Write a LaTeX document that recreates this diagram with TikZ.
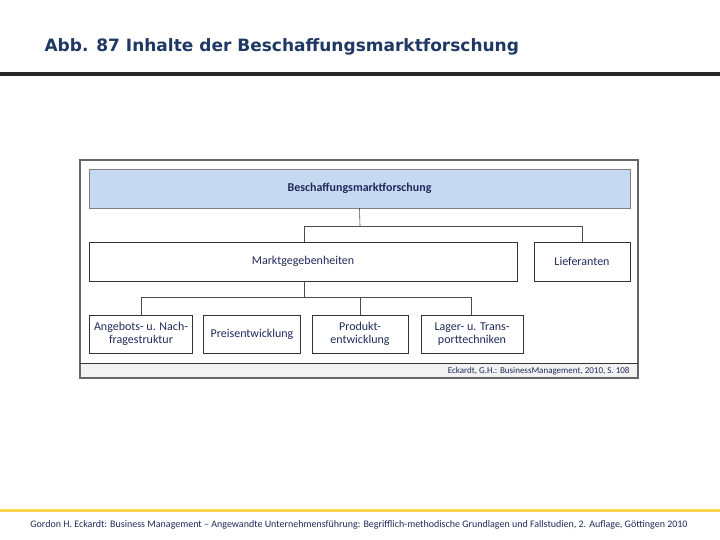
\documentclass[tikz,border=0pt]{standalone}
\usepackage{fontspec}
\setmainfont{DejaVu Sans}
\newfontfamily\carl{Carlito}
\begin{document}
\begin{tikzpicture}[x=1pt,y=-1pt,
  bx/.style={draw=black!80,line width=0.6pt},
  lbl/.style={font=\carl\fontsize{12}{13}\selectfont,text=navy,align=center},
  ln/.style={draw=black!70,line width=0.6pt}]
\definecolor{navy}{HTML}{1F2A5A}
\definecolor{ttl}{HTML}{1F3864}
\definecolor{topfill}{HTML}{C6D9F1}
\useasboundingbox (0,0) rectangle (720,540);
\node[anchor=west,font=\bfseries\fontsize{17}{19}\selectfont,text=ttl] (title) at (41,47) {Abb. 87 Inhalte der Beschaffungsmarktforschung};
\fill[black!85] (0,72.5) rectangle (720,76);
\fill[yellow!60!orange!70] (0,509) rectangle (720,512);
\node[font=\carl\fontsize{10}{12}\selectfont,text=navy] (foot) at (359,525) {Gordon H. Eckardt: Business Management – Angewandte Unternehmensführung: Begrifflich-methodische Grundlagen und Fallstudien, 2. Auflage, Göttingen 2010};
% frame
\draw[bx,line width=1.2pt,draw=black!60] (80,160) rectangle (638,378);
\fill[black!5] (81,363) rectangle (637,377);
\draw[black!80,line width=0.8pt] (80,363) -- (638,363);
\node[anchor=east,font=\carl\fontsize{9}{10}\selectfont,text=navy] (src) at (633,371) {Eckardt, G.H.: BusinessManagement, 2010, S. 108};
% boxes
\node[bx,fill=topfill,draw=black!50,minimum width=541,minimum height=39,lbl] (top) at (359.5,188.5) {\bfseries Beschaffungsmarktforschung};
\node[bx,minimum width=428,minimum height=39,lbl] (mg) at (303,261.5) {Marktgegebenheiten};
\node[bx,minimum width=96,minimum height=39,lbl] (lf) at (582,261.5) {Lieferanten};
\node[bx,minimum width=103,minimum height=38,lbl] (b1) at (141,334) {Angebots- u. Nach-\\fragestruktur};
\node[bx,minimum width=97,minimum height=38,lbl] (b2) at (252,334) {Preisentwicklung};
\node[bx,minimum width=96,minimum height=38,lbl] (b3) at (360,334) {Produkt-\\entwicklung};
\node[bx,minimum width=102,minimum height=38,lbl] (b4) at (472,334) {Lager- u. Trans-\\porttechniken};
% connectors
\draw[ln] (top.south) -- (360,226) coordinate (h1);
\draw[ln] (304,226) -- (304,242);
\draw[ln] (304,226) -- (582,226) -- (lf.north);
\draw[ln] (304,281) -- (304,297) coordinate (h2);
\draw[ln] (141,297) -- (471,297);
\draw[ln] (141,297) -- (b1.north);
\draw[ln] (360,297) -- (b3.north);
\draw[ln] (471,297) -- (471,315);
\end{tikzpicture}
\end{document}
